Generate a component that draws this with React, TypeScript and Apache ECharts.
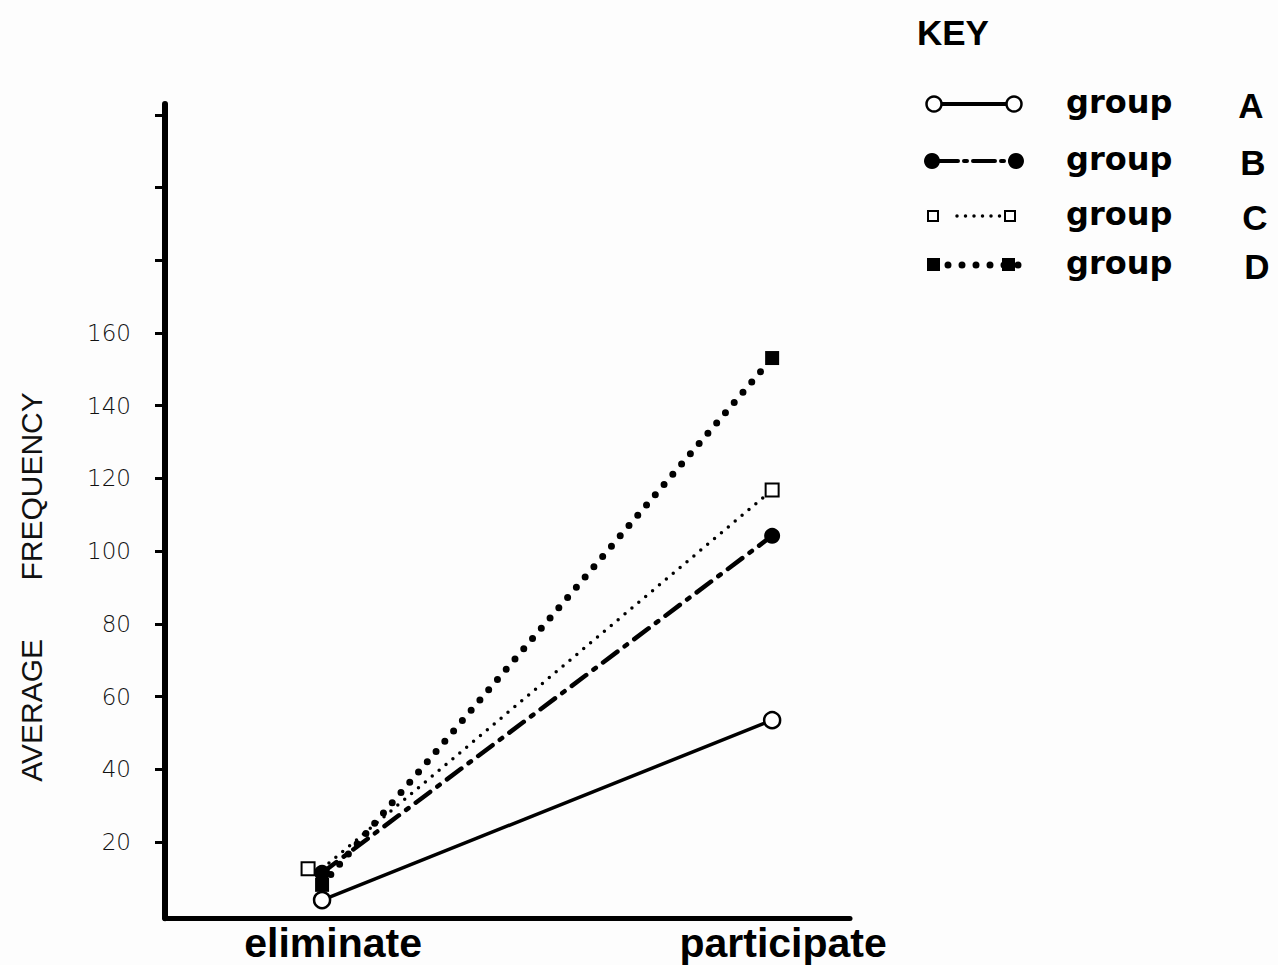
import React, { useEffect, useRef } from "react";
import * as echarts from "echarts";

const categories = ["eliminate", "participate"];
const groupNames = ["group A", "group B", "group C", "group D"];
const groupA = [4.0, 53.5];
const groupB = [11.5, 104.2];
const groupC = [12.6, 116.8];
const groupD = [8.2, 153.1];
const yTickValues = [20, 40, 60, 80, 100, 120, 140, 160, 180, 200, 220];
const yLabelValues = [20, 40, 60, 80, 100, 120, 140, 160];
const yAxisTitle = "AVERAGE       FREQUENCY";
const keyTitle = "KEY";

const toPoints = (vals: number[]) => vals.map((v, i) => [i, v]);

export default function App() {
  const ref = useRef<HTMLDivElement>(null);
  useEffect(() => {
    if (!ref.current) return;
    const chart = echarts.init(ref.current, undefined, { renderer: "svg" });

    const rowY = [104, 161, 216, 265];
    const legendGraphics: any[] = [];
    // row A
    legendGraphics.push({ type: "line", shape: { x1: 941, y1: rowY[0], x2: 1006, y2: rowY[0] }, style: { stroke: "#000", lineWidth: 4 } });
    legendGraphics.push({ type: "circle", shape: { cx: 934, cy: rowY[0], r: 7.5 }, style: { fill: "#fff", stroke: "#000", lineWidth: 2.5 } });
    legendGraphics.push({ type: "circle", shape: { cx: 1014, cy: rowY[0], r: 7.5 }, style: { fill: "#fff", stroke: "#000", lineWidth: 2.5 } });
    // row B
    legendGraphics.push({ type: "line", shape: { x1: 936, y1: rowY[1], x2: 1012, y2: rowY[1] }, style: { stroke: "#000", lineWidth: 4, lineDash: [22, 6, 3, 6], lineCap: "round" } });
    legendGraphics.push({ type: "circle", shape: { cx: 932, cy: rowY[1], r: 8 }, style: { fill: "#000" } });
    legendGraphics.push({ type: "circle", shape: { cx: 1016, cy: rowY[1], r: 8 }, style: { fill: "#000" } });
    // row C
    legendGraphics.push({ type: "line", shape: { x1: 957, y1: rowY[2], x2: 1000, y2: rowY[2] }, style: { stroke: "#000", lineWidth: 3.5, lineDash: [0, 8.5], lineCap: "round" } });
    legendGraphics.push({ type: "rect", shape: { x: 928, y: rowY[2] - 5, width: 10, height: 10 }, style: { fill: "#fff", stroke: "#000", lineWidth: 2 } });
    legendGraphics.push({ type: "rect", shape: { x: 1005, y: rowY[2] - 5, width: 10, height: 10 }, style: { fill: "#fff", stroke: "#000", lineWidth: 2 } });
    // row D
    legendGraphics.push({ type: "line", shape: { x1: 948, y1: rowY[3], x2: 1020, y2: rowY[3] }, style: { stroke: "#000", lineWidth: 7, lineDash: [0, 14], lineCap: "round" } });
    legendGraphics.push({ type: "rect", shape: { x: 927, y: rowY[3] - 7, width: 13, height: 13 }, style: { fill: "#000" } });
    legendGraphics.push({ type: "rect", shape: { x: 1002, y: rowY[3] - 7, width: 13, height: 13 }, style: { fill: "#000" } });

    groupNames.forEach((name, i) => {
      const parts = name.split(" ");
      legendGraphics.push({
        type: "text",
        x: 1066,
        y: rowY[i] - 2,
        style: { text: parts[0], font: "bold 32px 'DejaVu Sans'", fill: "#000", align: "left", verticalAlign: "middle" },
      });
      legendGraphics.push({
        type: "text",
        x: 1251 + i * 2,
        y: rowY[i] + 1,
        style: { text: parts[1], font: "bold 35px 'Liberation Sans'", fill: "#000", align: "center", verticalAlign: "middle" },
      });
    });

    const option: any = {
      animation: false,
      backgroundColor: "#fdfdfd",
      grid: { left: 165, right: 428, top: 103.9, bottom: 46.7, containLabel: false },
      xAxis: {
        type: "value",
        min: -0.349,
        max: 1.173,
        splitLine: { show: false },
        axisTick: { show: false },
        axisLine: { show: true, onZero: false, lineStyle: { color: "#000", width: 5 } },
        axisLabel: {
          customValues: [0, 1],
          formatter: (v: number) => categories[Math.round(v)] ?? "",
          margin: 4,
          padding: [0, 0, 0, 22],
          color: "#000",
          fontFamily: "'Liberation Sans'",
          fontWeight: "bold",
          fontSize: 41,
        },
      },
      yAxis: {
        type: "value",
        min: -1,
        max: 223,
        splitLine: { show: false },
        axisLine: { show: true, onZero: false, lineStyle: { color: "#000", width: 6 } },
        axisTick: { show: true, customValues: yTickValues, length: 10, lineStyle: { color: "#000", width: 3 } },
        axisLabel: {
          customValues: yLabelValues,
          margin: 34,
          color: "#111",
          fontFamily: "'DejaVu Sans'",
          fontWeight: 200,
          fontSize: 23,
        },
      },
      graphic: [
        {
          type: "text",
          x: 31,
          y: 587,
          rotation: Math.PI / 2,
          style: { text: yAxisTitle, font: "30px 'Liberation Sans'", fill: "#111", align: "center", verticalAlign: "middle" },
        },
        {
          type: "text",
          x: 917,
          y: 32,
          style: { text: keyTitle, font: "bold 35px 'Liberation Sans'", fill: "#000", align: "left", verticalAlign: "middle" },
        },
        ...legendGraphics,
      ],
      series: [
        {
          name: groupNames[0],
          type: "line",
          data: toPoints(groupA),
          symbol: "circle",
          symbolSize: 16,
          lineStyle: { color: "#000", width: 3.5 },
          itemStyle: { color: "#fff", borderColor: "#000", borderWidth: 2.5 },
          z: 5,
        },
        {
          name: groupNames[1],
          type: "line",
          data: toPoints(groupB),
          symbol: "circle",
          symbolSize: 16,
          lineStyle: { color: "#000", width: 4.5, type: [18, 9, 3, 9], cap: "round" },
          itemStyle: { color: "#000" },
          z: 3,
        },
        {
          name: groupNames[2],
          type: "line",
          data: toPoints(groupC).map((p, i) => (i === 0 ? { value: p, symbolOffset: [-14, 0] } : { value: p })),
          symbol: "rect",
          symbolSize: 13,
          lineStyle: { color: "#000", width: 3.5, type: [0, 9], cap: "round" },
          itemStyle: { color: "#fff", borderColor: "#000", borderWidth: 2 },
          z: 4,
        },
        {
          name: groupNames[3],
          type: "line",
          data: toPoints(groupD),
          symbol: "rect",
          symbolSize: 14,
          lineStyle: { color: "#000", width: 7, type: [0, 13.5], cap: "round" },
          itemStyle: { color: "#000" },
          z: 2,
        },
      ],
    };
    chart.setOption(option);
    return () => chart.dispose();
  }, []);
  return <div ref={ref} style={{ position: "absolute", left: 0, top: 0, width: 1278, height: 965 }} />;
}
